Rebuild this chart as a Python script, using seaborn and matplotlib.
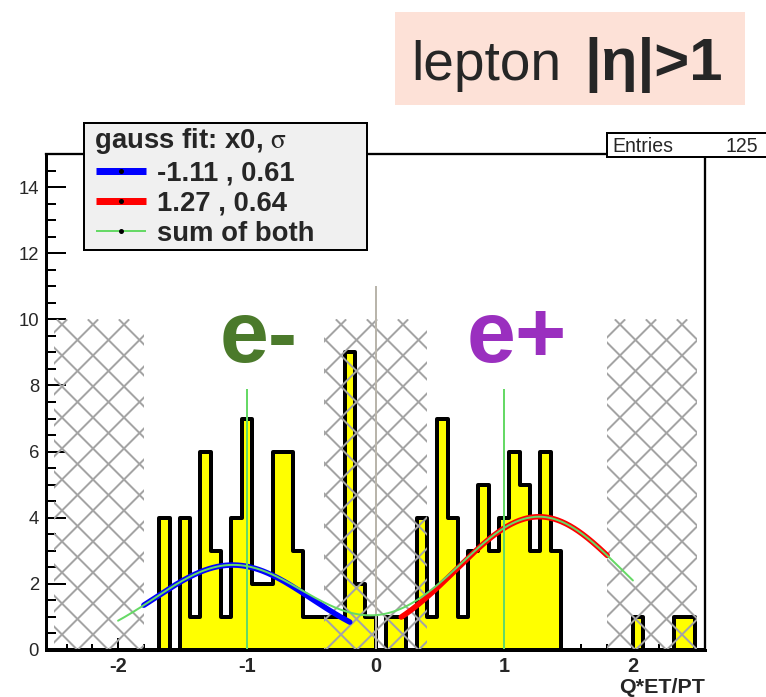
import numpy as np
import pandas as pd
import matplotlib
matplotlib.use("Agg")
import matplotlib.pyplot as plt
import seaborn as sns
from matplotlib.lines import Line2D
from matplotlib.patches import Rectangle
from matplotlib.collections import LineCollection
from matplotlib.ticker import MultipleLocator
from matplotlib.legend_handler import HandlerLine2D

# ---------------- data ----------------
x_lo, x_hi, bin_width = -2.56, 2.56, 0.08
y_lo, y_hi = 0, 15
counts = [0, 0, 0, 0, 0, 0, 0, 0, 0, 0, 0,
          4, 0, 4, 1, 6, 3, 1, 4, 7, 2, 2, 6, 6, 3, 1, 1, 1, 1, 9, 2,
          1, 0, 1, 1, 0,
          4, 1, 7, 4, 1, 3, 5, 3, 4, 6, 5, 3, 6, 3,
          0, 0, 0, 0, 0, 0, 0,
          1, 0, 0, 0, 1, 1, 0]

hatch_lo = [-2.5, -0.4, 1.8]
hatch_hi = [-1.8, 0.4, 2.5]
hatch_top = 10

fit_x0 = [-1.11, 1.27]
fit_sigma = [0.61, 0.64]
fit_amp = [2.57, 4.03]
fit_from = [-1.8, 0.2]
fit_to = [-0.2, 1.8]
fit_colors = ["#0000ff", "#ff0000"]
sum_from, sum_to = -2.0, 2.0

marker_x = [-1, 1]
marker_top = 7.9
zero_line_top = 11

labels_text = ["e-", "e+"]
labels_x = [-0.91, 1.10]
labels_y = [8.7, 8.7]
labels_col = ["#4b7a2b", "#9a2fbf"]

xticks = [-2, -1, 0, 1, 2]
yticks = [0, 2, 4, 6, 8, 10, 12, 14]

# ---------------- style ----------------
W, H, DPI = 766, 697, 180
AX_L, AX_B, AX_W, AX_H = 46, 47, 659, 496   # axes box in pixels
HATCH_STEP = 31                             # hatch lattice period in pixels
HATCH_PHASE = 12                            # lattice offset in pixels


def pt(px):
    return px * 72.0 / DPI


sns.set_style("ticks")
plt.rcParams.update({
    "font.family": ["Liberation Sans", "DejaVu Sans"],
    "mathtext.fontset": "stix",
    "axes.unicode_minus": False,
})

fig = plt.figure(figsize=(W / DPI, H / DPI), dpi=DPI)
fig.patch.set_facecolor("white")
ax = fig.add_axes([AX_L / W, AX_B / H, AX_W / W, AX_H / H])
ax.set_xlim(x_lo, x_hi)
ax.set_ylim(y_lo, y_hi)

edges = [round(x_lo + i * bin_width, 4) for i in range(len(counts) + 1)]
centers = [(a + b) / 2 for a, b in zip(edges[:-1], edges[1:])]
hist_df = pd.DataFrame({"x": centers, "w": counts})

sns.histplot(data=hist_df, x="x", weights="w", bins=edges, element="step", fill=True,
             color="#ffff00", edgecolor="black", linewidth=pt(4), alpha=1,
             ax=ax, zorder=2)

# cross-hatched exclusion regions (45-degree lattice in screen space)
sx = AX_W / (x_hi - x_lo)
sy = AX_H / (y_hi - y_lo)
for lo, hi in zip(hatch_lo, hatch_hi):
    X0, X1, Y1 = lo * sx, hi * sx, hatch_top * sy
    segs = []
    k0 = np.floor((X0 - Y1 - HATCH_PHASE) / HATCH_STEP) - 1
    k1 = np.ceil((X1 - HATCH_PHASE) / HATCH_STEP) + 1
    for k in np.arange(k0, k1 + 1):
        c = HATCH_PHASE + k * HATCH_STEP
        segs.append([(c / sx, 0), ((c + Y1) / sx, hatch_top)])
    k0 = np.floor((X0 - HATCH_PHASE) / HATCH_STEP) - 1
    k1 = np.ceil((X1 + Y1 - HATCH_PHASE) / HATCH_STEP) + 1
    for k in np.arange(k0, k1 + 1):
        c = HATCH_PHASE + k * HATCH_STEP
        segs.append([(c / sx, 0), ((c - Y1) / sx, hatch_top)])
    lc = LineCollection(segs, colors="#a4a4a4", linewidths=pt(2), zorder=3)
    ax.add_collection(lc)
    clip = Rectangle((lo, 0), hi - lo, hatch_top, transform=ax.transData)
    lc.set_clip_path(clip)

ax.vlines(0, 0, zero_line_top, color="#b9b5ab", linewidth=pt(2), zorder=3.5)


def gauss(x, a, m, s):
    return a * np.exp(-0.5 * ((x - m) / s) ** 2)


for a, m, s, lo, hi, c in zip(fit_amp, fit_x0, fit_sigma, fit_from, fit_to, fit_colors):
    xs = np.linspace(lo, hi, 200)
    sns.lineplot(x=xs, y=gauss(xs, a, m, s), color=c, linewidth=pt(5.5), ax=ax, zorder=4)

xs = np.linspace(sum_from, sum_to, 400)
ys = sum(gauss(xs, a, m, s) for a, m, s in zip(fit_amp, fit_x0, fit_sigma))
sns.lineplot(x=xs, y=ys, color="#66d966", linewidth=pt(2), ax=ax, zorder=5)

ax.vlines(marker_x, 0, marker_top, color="#66d966", linewidth=pt(2), zorder=4.5)

for t, x, y, c in zip(labels_text, labels_x, labels_y, labels_col):
    ax.text(x, y, t, color=c, fontsize=pt(88), fontweight="bold",
            family=["Liberation Sans Narrow", "Liberation Sans"],
            ha="center", va="baseline", zorder=6)

ax.set_xlim(x_lo, x_hi)
ax.set_ylim(y_lo, y_hi)
ax.set_xticks(xticks)
ax.set_yticks(yticks)
ax.xaxis.set_minor_locator(MultipleLocator(0.2))
ax.yaxis.set_minor_locator(MultipleLocator(0.5))
ax.tick_params(which="both", direction="in", top=False, right=False, color="black")
ax.tick_params(axis="y", which="major", length=pt(20), width=pt(2), labelsize=pt(18.5), pad=pt(7))
ax.tick_params(axis="y", which="minor", length=pt(10), width=pt(2))
ax.tick_params(axis="x", which="major", length=pt(12), width=pt(2), labelsize=pt(20), pad=pt(7))
ax.tick_params(axis="x", which="minor", length=pt(6), width=pt(2))
for lbl in ax.get_xticklabels():
    lbl.set_fontweight("bold")
ax.set_ylabel("")
ax.set_xlabel("Q*ET/PT", loc="right", fontweight="bold", fontsize=pt(21.5), labelpad=pt(2))
for side in ["left", "bottom"]:
    ax.spines[side].set_linewidth(pt(3))
for side in ["top", "right"]:
    ax.spines[side].set_linewidth(pt(2.3))
for sp in ax.spines.values():
    sp.set_color("black")
    sp.set_zorder(7)

# legend
handles = [Line2D([0], [0], color=c, linewidth=pt(7), marker="o", markersize=pt(2.5),
                  markerfacecolor="black", markeredgecolor="black",
                  solid_capstyle="butt") for c in fit_colors]
handles.append(Line2D([0], [0], color="#66d966", linewidth=pt(2), marker="o",
                      markersize=pt(2.5), markerfacecolor="black",
                      markeredgecolor="black", solid_capstyle="butt"))
leg_labels = [f"{m:.2f} , {s:.2f}" for m, s in zip(fit_x0, fit_sigma)] + ["sum of both"]
leg = ax.legend(handles, leg_labels, title=r" gauss fit: x0, $\mathrm{\sigma}$",
                loc="upper left",
                bbox_to_anchor=((84 - AX_L) / AX_W, (650 - 247) / AX_H,
                                (367 - 84) / AX_W, (247 - 123) / AX_H),
                mode="expand", bbox_transform=ax.transAxes,
                frameon=True, fancybox=False, edgecolor="black",
                facecolor="#f0f0f0", framealpha=1,
                prop={"weight": "bold", "size": pt(27.5)},
                title_fontproperties={"weight": "bold", "size": pt(27.5)},
                handlelength=2.15, handletextpad=0.4, borderpad=0.12,
                labelspacing=0.15, borderaxespad=0, alignment="left",
                handler_map={Line2D: HandlerLine2D(xpad=0.33)})
leg.get_frame().set_linewidth(pt(2))
leg.set_zorder(10)

# stats box
fig.add_artist(Rectangle((606.7 / W, 1 - 157.3 / H), (770 - 606.7) / W, 24 / H,
                         transform=fig.transFigure, facecolor="white",
                         edgecolor="black", linewidth=pt(2), zorder=20))
fig.text(612 / W, 1 - 146 / H, "Entries", ha="left", va="center", fontsize=pt(19.5), zorder=21)
fig.text(758 / W, 1 - 146 / H, str(int(sum(counts))), ha="right", va="center",
         fontsize=pt(19.5), zorder=21)

# title box
fig.add_artist(Rectangle((395 / W, 1 - 105 / H), 350 / W, 93 / H,
                         transform=fig.transFigure, facecolor="#fde1d7",
                         edgecolor="none", zorder=20))
fig.text(411 / W, 1 - 79.7 / H, "lepton", ha="left", va="baseline", fontsize=pt(55),
         zorder=21)
fig.text(584 / W, 1 - 79.7 / H, "|η|>1", ha="left", va="baseline", fontsize=pt(60),
         fontweight="bold", zorder=21)

fig.savefig("out.png", dpi=DPI, facecolor="white")
